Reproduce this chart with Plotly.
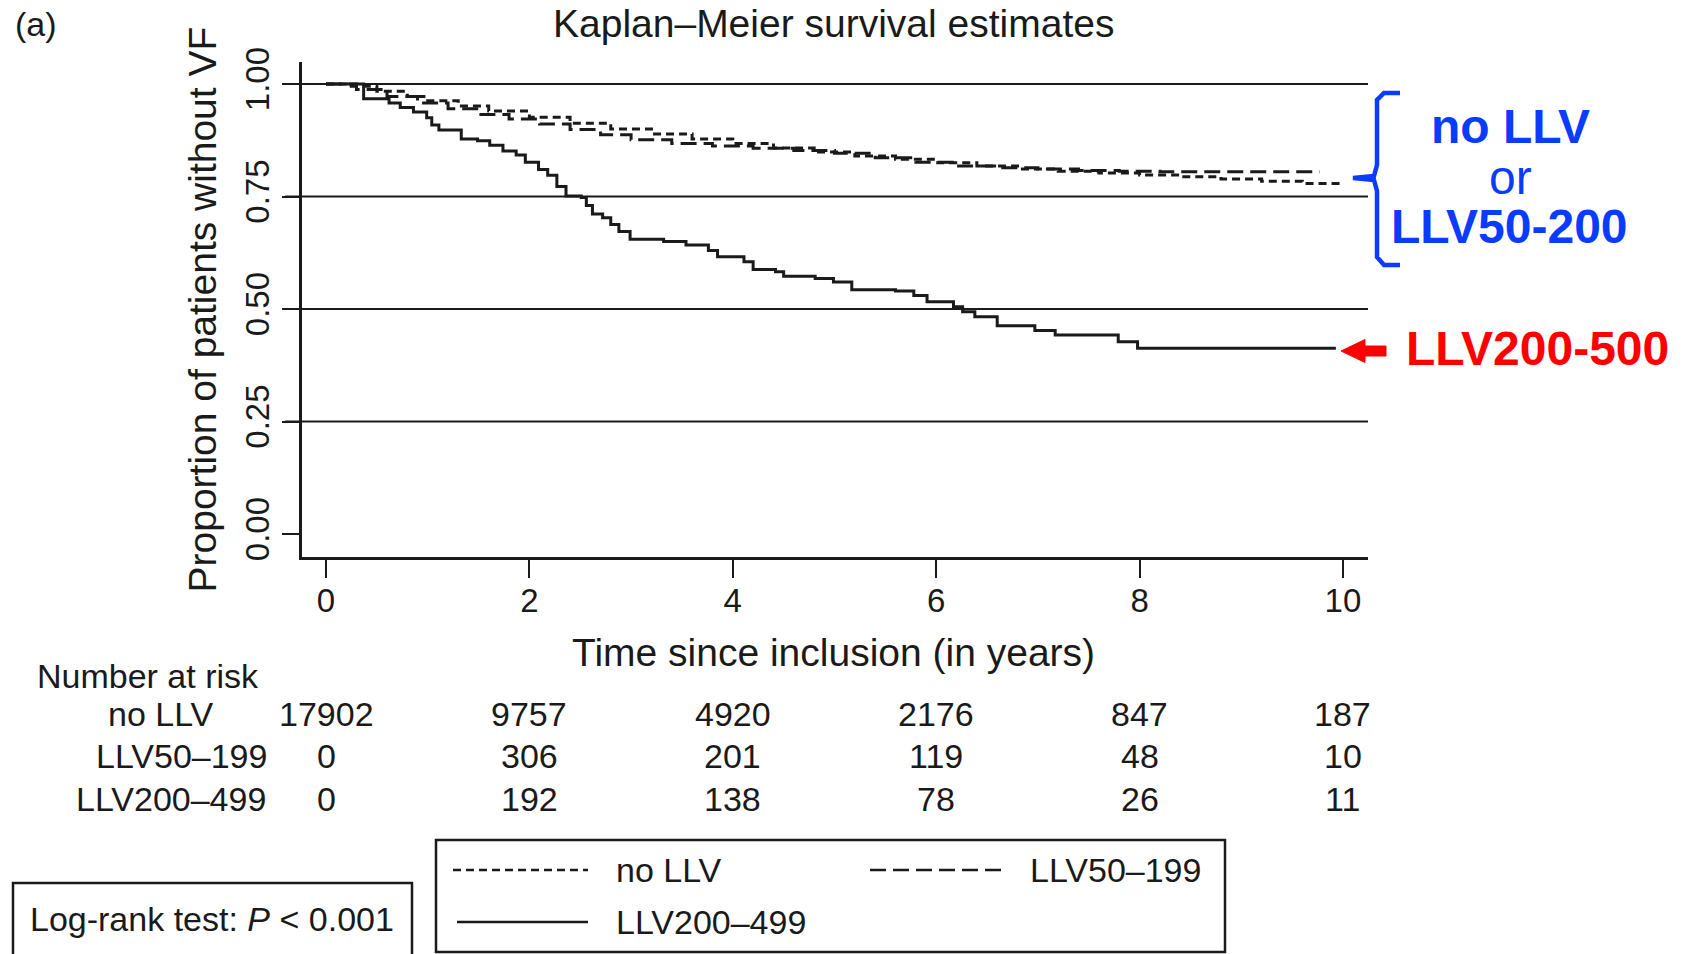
import plotly.graph_objects as go

# ---------------- data ----------------
t_nollv = [0, 0.2, 0.5, 0.8, 1.0, 1.3, 1.6, 2.0, 2.4, 2.8, 3.2, 3.6, 4.0, 4.4, 4.8, 5.2,
           5.6, 6.0, 6.4, 6.8, 7.2, 7.6, 8.0, 8.4, 8.8, 9.2, 9.6, 9.97]
s_nollv = [1.0, 0.995, 0.984, 0.972, 0.963, 0.951, 0.940, 0.926, 0.913, 0.900, 0.889, 0.878,
           0.868, 0.858, 0.849, 0.840, 0.833, 0.825, 0.818, 0.811, 0.806, 0.802, 0.798, 0.794,
           0.789, 0.784, 0.779, 0.776]

t_llv50 = [0, 0.3, 0.6, 0.9, 1.2, 1.5, 1.8, 2.1, 2.4, 2.7, 3.0, 3.4, 3.8, 4.2, 4.6, 5.0,
           5.4, 5.8, 6.2, 6.6, 7.0, 7.4, 7.8, 8.2, 9.77]
s_llv50 = [1.0, 0.988, 0.972, 0.958, 0.945, 0.932, 0.922, 0.911, 0.899, 0.887, 0.876, 0.868,
           0.862, 0.857, 0.852, 0.846, 0.836, 0.826, 0.818, 0.814, 0.811, 0.808, 0.806, 0.805,
           0.805]

t_llv200 = [0, 0.37, 0.62, 0.73, 0.86, 0.99, 1.04, 1.11, 1.33, 1.49, 1.61, 1.74, 1.87, 1.96,
            2.09, 2.18, 2.27, 2.36, 2.51, 2.56, 2.62, 2.72, 2.80, 2.88, 2.99, 3.32, 3.54, 3.76,
            3.85, 4.11, 4.20, 4.42, 4.50, 4.81, 4.99, 5.17, 5.60, 5.78, 5.91, 6.17, 6.26, 6.38,
            6.60, 6.97, 7.17, 7.79, 7.98, 9.93]
s_llv200 = [1.0, 0.967, 0.958, 0.948, 0.938, 0.925, 0.909, 0.898, 0.878, 0.874, 0.864, 0.851,
            0.842, 0.826, 0.810, 0.797, 0.772, 0.751, 0.748, 0.730, 0.711, 0.703, 0.688, 0.672,
            0.655, 0.650, 0.642, 0.630, 0.616, 0.605, 0.588, 0.583, 0.573, 0.568, 0.560, 0.543,
            0.540, 0.530, 0.516, 0.505, 0.494, 0.483, 0.463, 0.452, 0.442, 0.427, 0.413, 0.413]

risk_times = [0, 2, 4, 6, 8, 10]
risk_groups = ["no LLV", "LLV50–199", "LLV200–499"]
risk_counts = [
    [17902, 9757, 4920, 2176, 847, 187],
    [0, 306, 201, 119, 48, 10],
    [0, 192, 138, 78, 26, 11],
]
x_ticks = [0, 2, 4, 6, 8, 10]
y_ticks = [0, 0.25, 0.5, 0.75, 1.0]
y_grid = [0.25, 0.5, 0.75, 1.0]

# ---------------- layout geometry ----------------
W, H = 1685, 954
L, R, T, B = 302, 1368, 62, 557   # plot area in pixels
FONT = "Liberation Sans, Arial, Helvetica, sans-serif"
INK = "#1a1a1a"


def px(x):
    return (x - L) / (R - L)


def py(y):
    return (B - y) / (B - T)


fig = go.Figure()

fig.add_trace(go.Scatter(x=t_nollv, y=s_nollv, mode="lines", line_shape="hv",
                         line=dict(color=INK, width=3, dash="8px,5px"), name="no LLV"))
fig.add_trace(go.Scatter(x=t_llv50, y=s_llv50, mode="lines", line_shape="hv",
                         line=dict(color=INK, width=3, dash="16px,7px"), name="LLV50–199"))
fig.add_trace(go.Scatter(x=t_llv200, y=s_llv200, mode="lines", line_shape="hv",
                         line=dict(color=INK, width=3), name="LLV200–499"))

shapes = []
# horizontal grid lines
for g in y_grid:
    shapes.append(dict(type="line", xref="paper", yref="y", x0=px(285), x1=1.0, y0=g, y1=g,
                       line=dict(color=INK, width=2.2), layer="below"))

# legend box and sample lines
shapes.append(dict(type="rect", xref="paper", yref="paper", x0=px(436), x1=px(1225),
                   y0=py(952), y1=py(840), line=dict(color=INK, width=2.5)))
leg_items = [
    (453, 588, 870, "8px,5px", 614, "no LLV"),
    (870, 1005, 870, "16px,7px", 1028, "LLV50–199"),
    (457, 588, 922, "solid", 614, "LLV200–499"),
]
annotations = []
for x0, x1, yy, dash, tx, lab in leg_items:
    shapes.append(dict(type="line", xref="paper", yref="paper", x0=px(x0), x1=px(x1),
                       y0=py(yy), y1=py(yy), line=dict(color=INK, width=2.4, dash=dash)))
    annotations.append(dict(xref="paper", yref="paper", x=px(tx), y=py(yy), text=lab,
                            showarrow=False, xanchor="left", yanchor="middle",
                            font=dict(size=34, color=INK, family=FONT)))

# log-rank box
shapes.append(dict(type="rect", xref="paper", yref="paper", x0=px(13), x1=px(412),
                   y0=py(970), y1=py(883), line=dict(color=INK, width=2.5)))
annotations.append(dict(xref="paper", yref="paper", x=px(28), y=py(919),
                        text="Log-rank test: <i>P</i> &lt; 0.001", showarrow=False,
                        xanchor="left", yanchor="middle",
                        font=dict(size=34, color=INK, family=FONT)))

# blue brace
brace = [
    (1400, 93), (1384, 93), (1377, 100), (1377, 165), (1374, 176), (1353, 178),
    (1374, 180), (1377, 191), (1377, 257), (1384, 265), (1400, 265),
]
path = "M " + " L ".join(f"{px(a):.5f},{py(b):.5f}" for a, b in brace)
shapes.append(dict(type="path", xref="paper", yref="paper", path=path,
                   line=dict(color="#0a3cff", width=4.5)))

# red arrow
arrow = [(1341, 351), (1365, 339.5), (1365, 346), (1386, 346), (1386, 356), (1365, 356),
         (1365, 362.5)]
apath = "M " + " L ".join(f"{px(a):.5f},{py(b):.5f}" for a, b in arrow) + " Z"
shapes.append(dict(type="path", xref="paper", yref="paper", path=apath,
                   fillcolor="#ff0000", line=dict(color="#ff0000", width=1)))

BLUE = "#0a3cff"
annotations += [
    dict(xref="paper", yref="paper", x=px(1510), y=py(127), text="<b>no LLV</b>",
         showarrow=False, xanchor="center", yanchor="middle",
         font=dict(size=48, color=BLUE, family=FONT)),
    dict(xref="paper", yref="paper", x=px(1510), y=py(178), text="or",
         showarrow=False, xanchor="center", yanchor="middle",
         font=dict(size=48, color=BLUE, family=FONT)),
    dict(xref="paper", yref="paper", x=px(1509), y=py(226), text="<b>LLV50-200</b>",
         showarrow=False, xanchor="center", yanchor="middle",
         font=dict(size=48, color=BLUE, family=FONT)),
    dict(xref="paper", yref="paper", x=px(1537), y=py(348), text="<b>LLV200-500</b>",
         showarrow=False, xanchor="center", yanchor="middle",
         font=dict(size=48, color="#ff0000", family=FONT)),
]

# titles
annotations += [
    dict(xref="paper", yref="paper", x=px(13), y=py(24), text="(a)", showarrow=False,
         xanchor="left", yanchor="middle", font=dict(size=34, color=INK, family=FONT)),
    dict(xref="paper", yref="paper", x=px(833), y=py(24), text="Kaplan–Meier survival estimates",
         showarrow=False, xanchor="center", yanchor="middle",
         font=dict(size=39, color=INK, family=FONT)),
    dict(xref="paper", yref="paper", x=px(833), y=py(652), text="Time since inclusion (in years)",
         showarrow=False, xanchor="center", yanchor="middle",
         font=dict(size=39, color=INK, family=FONT)),
    dict(xref="paper", yref="paper", x=px(202), y=py(309.5),
         text="Proportion of patients without VF", textangle=-90,
         showarrow=False, xanchor="center", yanchor="middle",
         font=dict(size=39, color=INK, family=FONT)),
    dict(xref="paper", yref="paper", x=px(35), y=py(676), text="Number at risk",
         showarrow=False, xanchor="left", yanchor="middle",
         font=dict(size=34, color=INK, family=FONT)),
]

# number at risk table
row_y = [713.5, 755.5, 798.5]
label_right = [216, 269, 268]
for gi, grp in enumerate(risk_groups):
    annotations.append(dict(xref="paper", yref="paper", x=px(label_right[gi]), y=py(row_y[gi]),
                            text=grp, showarrow=False, xanchor="right", yanchor="middle",
                            font=dict(size=34, color=INK, family=FONT)))
    for ti, tt in enumerate(risk_times):
        annotations.append(dict(xref="x", yref="paper", x=tt, y=py(row_y[gi]),
                                text=str(risk_counts[gi][ti]), showarrow=False,
                                xanchor="center", yanchor="middle",
                                font=dict(size=34, color=INK, family=FONT)))

fig.update_layout(
    width=W, height=H,
    margin=dict(l=L, r=W - R, t=T, b=H - B, pad=0),
    paper_bgcolor="white", plot_bgcolor="white",
    showlegend=False,
    shapes=shapes, annotations=annotations,
    font=dict(family=FONT, color=INK),
    xaxis=dict(range=[-0.236, 10.246], tickvals=x_ticks, ticks="outside", ticklen=18,
               tickwidth=2.4, tickcolor=INK, showgrid=False, zeroline=False,
               showline=True, linecolor=INK, linewidth=2.6, ticklabelstandoff=-5,
               tickfont=dict(size=33, color=INK, family=FONT)),
    yaxis=dict(range=[-0.0511, 1.0489], tickvals=y_ticks, tickformat=".2f", ticks="outside",
               ticklen=17, tickwidth=2.4, tickcolor=INK, showgrid=False, zeroline=False,
               showline=True, linecolor=INK, linewidth=2.6, tickangle=-90,
               tickfont=dict(size=33, color=INK, family=FONT)),
)

fig.write_html("out.html")
